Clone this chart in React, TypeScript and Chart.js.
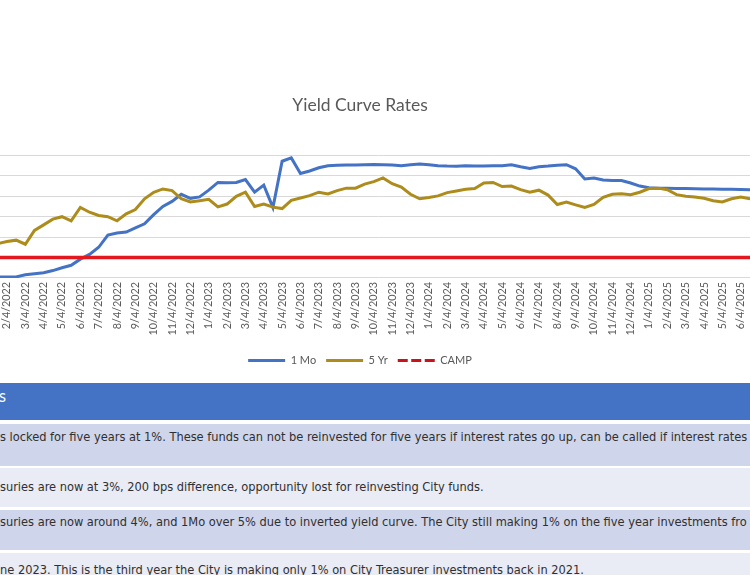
import React, { useEffect, useRef } from "react";
import { Chart, registerables } from "chart.js";

Chart.register(...registerables);

// Category labels (semi-monthly samples); ticks show the "x/4/yyyy" ones
const dateLabels: string[] = [
  "1/19/2022",
  "2/4/2022", "2/19/2022", "3/4/2022", "3/19/2022", "4/4/2022", "4/19/2022",
  "5/4/2022", "5/19/2022", "6/4/2022", "6/19/2022", "7/4/2022", "7/19/2022",
  "8/4/2022", "8/19/2022", "9/4/2022", "9/19/2022", "10/4/2022", "10/19/2022",
  "11/4/2022", "11/19/2022", "12/4/2022", "12/19/2022",
  "1/4/2023", "1/19/2023", "2/4/2023", "2/19/2023", "3/4/2023", "3/19/2023",
  "4/4/2023", "4/19/2023", "5/4/2023", "5/19/2023", "6/4/2023", "6/19/2023",
  "7/4/2023", "7/19/2023", "8/4/2023", "8/19/2023", "9/4/2023", "9/19/2023",
  "10/4/2023", "10/19/2023", "11/4/2023", "11/19/2023", "12/4/2023", "12/19/2023",
  "1/4/2024", "1/19/2024", "2/4/2024", "2/19/2024", "3/4/2024", "3/19/2024",
  "4/4/2024", "4/19/2024", "5/4/2024", "5/19/2024", "6/4/2024", "6/19/2024",
  "7/4/2024", "7/19/2024", "8/4/2024", "8/19/2024", "9/4/2024", "9/19/2024",
  "10/4/2024", "10/19/2024", "11/4/2024", "11/19/2024", "12/4/2024", "12/19/2024",
  "1/4/2025", "1/19/2025", "2/4/2025", "2/19/2025", "3/4/2025", "3/19/2025",
  "4/4/2025", "4/19/2025", "5/4/2025", "5/19/2025", "6/4/2025", "6/19/2025",
  "7/4/2025",
];

// 1 Mo treasury yield (%)
const oneMo: number[] = [
  0.04,
  0.04, 0.05, 0.15, 0.2, 0.25, 0.36, 0.5, 0.62, 0.92, 1.15, 1.5, 2.1,
  2.2, 2.25, 2.45, 2.65, 3.1, 3.5, 3.75, 4.1, 3.9, 3.97,
  4.3, 4.68, 4.66, 4.68, 4.82, 4.2, 4.55, 3.45, 5.72, 5.88, 5.12, 5.24,
  5.4, 5.5, 5.52, 5.54, 5.53, 5.55, 5.56, 5.55, 5.53, 5.5, 5.55, 5.58,
  5.55, 5.5, 5.48, 5.47, 5.5, 5.48, 5.48, 5.5, 5.5, 5.55, 5.45, 5.37,
  5.45, 5.48, 5.52, 5.55, 5.35, 4.85, 4.9, 4.8, 4.78, 4.77, 4.65, 4.5,
  4.42, 4.4, 4.39, 4.38, 4.38, 4.37, 4.36, 4.36, 4.35, 4.34, 4.33, 4.32,
  4.32,
];

// 5 Yr treasury yield (%)
const fiveYr: number[] = [
  1.68,
  1.78, 1.85, 1.65, 2.33, 2.6, 2.88, 3.0, 2.8, 3.45, 3.22, 3.06, 3.0,
  2.8, 3.14, 3.35, 3.88, 4.2, 4.36, 4.28, 3.88, 3.72, 3.78,
  3.85, 3.48, 3.62, 4.0, 4.2, 3.5, 3.62, 3.47, 3.4, 3.8, 3.92, 4.03,
  4.2, 4.12, 4.28, 4.4, 4.4, 4.6, 4.72, 4.9, 4.62, 4.45, 4.1, 3.88,
  3.94, 4.02, 4.18, 4.26, 4.35, 4.38, 4.65, 4.68, 4.48, 4.5, 4.33, 4.2,
  4.3, 4.06, 3.6, 3.72, 3.58, 3.45, 3.6, 3.95, 4.1, 4.12, 4.08, 4.2,
  4.38, 4.4, 4.32, 4.08, 4.0, 3.97, 3.9, 3.78, 3.72, 3.88, 3.96, 3.88,
  3.9,
];

// CAMP rate (%)
const camp: number[] = [
  1,
  1, 1, 1, 1, 1, 1, 1, 1, 1, 1, 1, 1,
  1, 1, 1, 1, 1, 1, 1, 1, 1, 1,
  1, 1, 1, 1, 1, 1, 1, 1, 1, 1, 1, 1,
  1, 1, 1, 1, 1, 1, 1, 1, 1, 1, 1, 1,
  1, 1, 1, 1, 1, 1, 1, 1, 1, 1, 1, 1,
  1, 1, 1, 1, 1, 1, 1, 1, 1, 1, 1, 1,
  1, 1, 1, 1, 1, 1, 1, 1, 1, 1, 1, 1,
  1,
];

const seriesNames = ["1 Mo", "5 Yr", "CAMP"];

const tableRows: string[] = [
  "s locked for five years at 1%. These funds can not be reinvested for five years if interest rates go up, can be called if interest rates",
  "suries are now at 3%, 200 bps difference, opportunity lost for reinvesting City funds.",
  "suries are now around 4%, and 1Mo over 5% due to inverted yield curve. The City still making 1% on the five year investments fro",
  "ne 2023. This is the third year the City is making only 1% on City Treasurer investments back in 2021.",
];

const FONT = "Lato, 'Open Sans', sans-serif";
const TABLE_FONT = "'DejaVu Sans Condensed', 'Liberation Sans Narrow', Lato, sans-serif";

function YieldChart() {
  const ref = useRef<HTMLCanvasElement | null>(null);
  useEffect(() => {
    if (!ref.current) return;
    const chart = new Chart(ref.current, {
      type: "line",
      data: {
        labels: dateLabels,
        datasets: [
          {
            label: seriesNames[0],
            data: oneMo,
            borderColor: "#4472C4",
            backgroundColor: "#4472C4",
            borderWidth: 3,
            pointRadius: 0,
            tension: 0,
            order: 3,
          },
          {
            label: seriesNames[1],
            data: fiveYr,
            borderColor: "#AD8C1C",
            backgroundColor: "#AD8C1C",
            borderWidth: 3,
            pointRadius: 0,
            tension: 0,
            order: 2,
          },
          {
            label: seriesNames[2],
            data: camp,
            borderColor: "#E3171E",
            backgroundColor: "#E3171E",
            borderWidth: 3.5,
            pointRadius: 0,
            tension: 0,
            order: 1,
          },
        ],
      },
      options: {
        animation: false,
        responsive: true,
        maintainAspectRatio: false,
        layout: { padding: 0 },
        plugins: {
          title: {
            display: true,
            text: "Yield Curve Rates",
            color: "#595959",
            font: { family: FONT, size: 17.5, weight: "normal", lineHeight: 1.2 },
            padding: { top: 94.5, bottom: 40 },
          },
          legend: {
            position: "bottom",
            labels: {
              usePointStyle: true,
              pointStyle: "line",
              pointStyleWidth: 37,
              color: "#595959",
              font: { family: FONT, size: 11 },
              padding: 10,
              sort: (a: any, b: any) => a.datasetIndex - b.datasetIndex,
              generateLabels: (c: any) => {
                const items = (Chart.defaults.plugins.legend.labels as any).generateLabels(c);
                items.forEach((it: any) => {
                  it.lineWidth = 3;
                  it.lineDash = it.datasetIndex === 2 ? [10, 3.5] : [];
                  if (it.datasetIndex === 2) it.strokeStyle = "#C8121C";
                });
                return items;
              },
            },
          },
          tooltip: { enabled: false },
        },
        scales: {
          x: {
            grid: { display: false, drawTicks: false },
            border: { display: false },
            ticks: {
              autoSkip: false,
              minRotation: 90,
              maxRotation: 90,
              padding: 4,
              color: "#595959",
              font: { family: FONT, size: 10.8 },
              callback: (_v: any, i: number) => {
                const l = dateLabels[i];
                return l.split("/")[1] === "4" ? l : "";
              },
            },
            title: { display: true, text: " ", padding: 0, font: { size: 5.5, lineHeight: 1 } },
          },
          y: {
            min: 0,
            max: 6,
            ticks: { stepSize: 1, display: false },
            grid: { color: "#D9D9D9", lineWidth: 1, drawTicks: false },
            border: { display: false },
            afterFit: (s: any) => {
              s.width = 53.8;
            },
          },
        },
      },
    });
    return () => chart.destroy();
  }, []);
  return (
    <div style={{ position: "absolute", left: -56, top: 0, width: 832, height: 376 }}>
      <canvas ref={ref} />
    </div>
  );
}

export default function App() {
  const rowTops = [424, 468, 510, 553];
  const rowHeights = [42, 39, 40, 40];
  const rowText = [428, 478, 513, 561];
  const rowBg = ["#CFD5EA", "#E9EBF5", "#CFD5EA", "#E9EBF5"];
  return (
    <div
      style={{
        position: "fixed",
        left: 0,
        top: 0,
        width: 750,
        height: 575,
        overflow: "hidden",
        background: "#FFFFFF",
      }}
    >
      <YieldChart />
      <div style={{ position: "absolute", left: 0, top: 383, width: 750, height: 37, background: "#4472C4" }}>
        <div
          style={{
            position: "absolute",
            left: -1,
            top: 5,
            color: "#FFFFFF",
            fontFamily: TABLE_FONT,
            fontSize: 15,
            lineHeight: "18px",
          }}
        >
          s
        </div>
      </div>
      {tableRows.map((t, i) => (
        <div
          key={i}
          style={{
            position: "absolute",
            left: 0,
            top: rowTops[i],
            width: 750,
            height: rowHeights[i],
            background: rowBg[i],
          }}
        >
          <div
            style={{
              position: "absolute",
              left: 0,
              top: rowText[i] - rowTops[i],
              whiteSpace: "nowrap",
              color: "#303030",
              fontFamily: TABLE_FONT,
              fontSize: 12.7,
              lineHeight: "18px",
            }}
          >
            {t}
          </div>
        </div>
      ))}
    </div>
  );
}
